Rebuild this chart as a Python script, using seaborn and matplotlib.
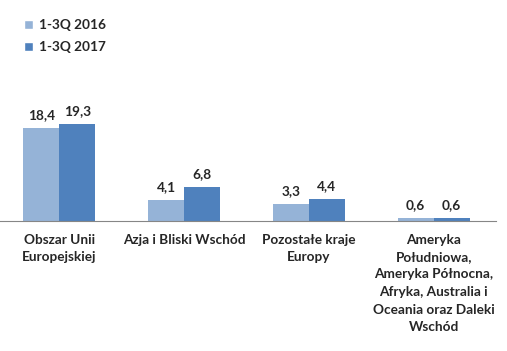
import pandas as pd
import seaborn as sns
import matplotlib.pyplot as plt
from matplotlib.patches import Patch

# dane z wykresu
categories = [
    "Obszar Unii\nEuropejskiej",
    "Azja i Bliski Wschód",
    "Pozostałe kraje\nEuropy",
    "Ameryka\nPołudniowa,\nAmeryka Północna,\nAfryka, Australia i\nOceania oraz Daleki\nWschód",
]
series = ["1-3Q 2016", "1-3Q 2017"]
values_2016 = [18.4, 4.1, 3.3, 0.6]
values_2017 = [19.3, 6.8, 4.4, 0.6]
colors = ["#95B3D7", "#4F81BD"]

df = pd.DataFrame({
    "kategoria": categories * 2,
    "okres": [series[0]] * 4 + [series[1]] * 4,
    "wartosc": values_2016 + values_2017,
})

sns.set_style("white")
plt.rcParams['font.family'] = ['Lato', 'DejaVu Sans']
fs = 9.8

fig = plt.figure(figsize=(5.07, 3.51), dpi=100)
ax = fig.add_axes([0, 130 / 351, 496 / 507, 211 / 351])

sns.barplot(data=df, x="kategoria", y="wartosc", hue="okres", palette=colors,
            width=0.577, gap=0, saturation=1, linewidth=0, legend=False, ax=ax)

for cont in ax.containers:
    labels = [f"{b.get_height():.1f}".replace(".", ",") for b in cont]
    ax.bar_label(cont, labels=labels, padding=5, fontsize=fs, fontweight="bold")

ax.set_xlim(-0.476, 3.5)
ax.set_ylim(0, 41.9)
ax.set_yticks([])
ax.set_xlabel("")
ax.set_ylabel("")
sns.despine(ax=ax, left=True, top=True, right=True)
ax.spines["bottom"].set_color("#868686")
ax.spines["bottom"].set_linewidth(0.8)

ax.set_xticks(range(4))
ax.set_xticklabels(categories, fontsize=fs, fontweight="bold", linespacing=1.55)
ax.set_xticks([0.5, 1.5, 2.5, 3.5], minor=True)
ax.tick_params(axis="x", which="major", length=0, pad=9)
ax.tick_params(axis="x", which="minor", length=4, color="#868686", width=0.8, direction="out")

handles = [Patch(facecolor=c, label=s) for c, s in zip(colors, series)]
fig.legend(handles=handles, loc="upper left", bbox_to_anchor=(12 / 507, 1 - 7 / 351),
           frameon=False, handlelength=0.65, handleheight=0.65, handletextpad=0.45,
           labelspacing=0.75, prop={"weight": "bold", "size": fs})

fig.savefig("out.png", dpi=100)
